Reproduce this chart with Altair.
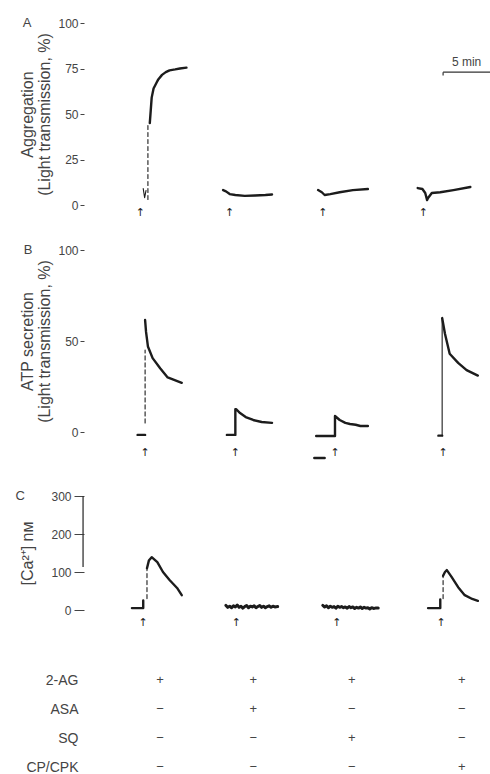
import altair as alt
import pandas as pd

# ---------------- data (time in min, values in panel units) ----------------
# Panel A: aggregation (% light transmission)
A1_base_t = [6.3, 6.45, 6.6];  A1_base_v = [9, 4, 8]
A1_rise_t = [6.8, 6.8];        A1_rise_v = [3, 45]
A1_t = [7.0, 7.1, 7.2, 7.4, 7.7, 7.9, 8.3, 8.7, 9.1, 9.7, 10.2, 10.9]
A1_v = [45, 52, 59, 64, 67, 69, 71.5, 73, 74, 74.5, 75, 75.5]
A2_t = [14.8, 15.1, 15.5, 16.1, 17.1, 18.2, 19.3, 20.0]
A2_v = [8.2, 7.5, 6, 5.5, 5, 5.2, 5.5, 5.8]
A3_t = [24.9, 25.3, 25.6, 26.2, 27.2, 28.6, 30.2]
A3_v = [8.2, 7, 5.5, 6, 7, 8.2, 8.8]
A4_t = [35.5, 36.0, 36.3, 36.5, 36.6, 37.0, 37.9, 39.3, 41.1]
A4_v = [9.3, 8.8, 6.6, 2.7, 3.8, 6.6, 7, 8.2, 9.9]
A_arrow_t = [6.0, 15.5, 25.4, 36.1]
A_arrow_v = [-4.4, -4.4, -4.4, -4.4]

# Panel B: ATP secretion
B1_base_t = [5.7, 6.5];        B1_base_v = [-1.6, -1.6]
B1_rise_t = [6.5, 6.5];        B1_rise_v = [5, 45]
B1_t = [6.5, 6.6, 6.8, 7.3, 8.1, 8.9, 10.4]
B1_v = [61.5, 55, 47, 40.6, 35, 30, 27]
B2_t = [15.2, 16.1, 16.1, 16.2, 16.6, 17.2, 18.0, 18.9, 20.0]
B2_v = [-1.6, -1.6, 12.5, 12.5, 10.4, 8.2, 6.6, 5.5, 5]
B3_t = [24.7, 26.7, 26.7, 27.2, 27.8, 28.3, 28.9, 29.4, 30.2]
B3_v = [-2.2, -2.2, 8.8, 6.6, 5.0, 4.4, 4.0, 3.3, 3.3]
B3_mark_t = [24.5, 25.6];      B3_mark_v = [-14.3, -14.3]
B4_base_t = [37.7, 38.1];      B4_base_v = [-2, -2]
B4_rise_t = [38.1, 38.1];      B4_rise_v = [-2, 62.6]
B4_t = [38.1, 38.4, 38.9, 39.8, 40.7, 41.9]
B4_v = [62.6, 54, 43, 38, 34, 31]
B_arrow_t = [6.5, 16.1, 26.7, 38.2]
B_arrow_v = [-11.5, -11.5, -11.5, -11.5]

# Panel C: [Ca2+] nM
C1_base_t = [5.1, 6.3, 6.3];   C1_base_v = [5, 5, 25]
C1_rise_t = [6.7, 6.7];        C1_rise_v = [30, 110]
C1_t = [6.7, 6.9, 7.2, 7.8, 8.4, 9.1, 9.9, 10.4]
C1_v = [110, 130, 139, 126, 100, 79, 58, 39]
C2_t = [15.1, 15.3, 15.5, 15.7, 15.9, 16.1, 16.3, 16.5, 16.7, 16.9, 17.1, 17.3, 17.5, 17.7,
        17.9, 18.1, 18.3, 18.5, 18.7, 18.9, 19.1, 19.3, 19.5, 19.7, 19.9, 20.1, 20.3, 20.6]
C2_v = [12, 7, 10, 6, 11, 8, 13, 7, 10, 5, 9, 12, 6, 10, 8, 11, 6, 9, 12, 7, 10, 6, 9, 11, 7, 10, 8, 9]
C3_t = [25.4, 25.6, 25.8, 26.0, 26.2, 26.4, 26.6, 26.8, 27.0, 27.2, 27.4, 27.6, 27.8, 28.0, 28.2,
        28.4, 28.6, 28.8, 29.0, 29.2, 29.4, 29.6, 29.8, 30.0, 30.2, 30.4, 30.6, 30.8, 31.0, 31.3]
C3_v = [12, 8, 11, 6, 10, 7, 9, 5, 10, 7, 9, 6, 8, 5, 9, 6, 8, 4, 7, 5, 8, 4, 7, 5, 6, 3, 6, 4, 5, 5]
C4_base_t = [36.6, 37.9, 37.9]; C4_base_v = [5, 5, 28]
C4_rise_t = [38.2, 38.2];       C4_rise_v = [30, 90]
C4_t = [38.2, 38.4, 38.6, 39.1, 39.8, 40.5, 41.3, 41.9]
C4_v = [90, 100, 105, 87, 60, 39, 29, 24]
C_arrow_t = [6.3, 16.2, 26.9, 38.0]
C_arrow_v = [-34, -34, -34, -34]
C_bar_t = [-0.1]; C_bar_v = [113]; C_bar_v2 = [300]

# scale bar (5 min) in panel A units
bar_t = [38.2]; bar_t2 = [43.2]; bar_v = [73]
bar_label = ["5 min"]

# treatment table
rows = ["2-AG", "ASA", "SQ", "CP/CPK"]
col_t = [8.1, 18.0, 28.5, 40.2]
signs = [["+", "+", "+", "+"],
         ["\u2212", "+", "\u2212", "\u2212"],
         ["\u2212", "\u2212", "+", "\u2212"],
         ["\u2212", "\u2212", "\u2212", "+"]]

panel_letters = {"A": (-6.06, 100), "B": (-5.96, 100), "C": (-6.8, 300)}

# ---------------- helpers ----------------
FONT = "Liberation Sans"
TXT = "#444444"
INK = "#1c1c1c"
xs = alt.Scale(domain=[0, 43.19], nice=False, zero=False)
X = alt.X("t:Q", scale=xs, axis=None)


def seg_df(segments):
    recs = []
    for name, tt, vv in segments:
        for i, (t, v) in enumerate(zip(tt, vv)):
            recs.append({"seg": name, "t": t, "v": v, "i": i})
    return pd.DataFrame(recs)


STYLES = {
    "solid": dict(strokeWidth=2.4),
    "dash": dict(strokeWidth=1.1, strokeDash=[4, 3]),
    "thin": dict(strokeWidth=1.1),
    "noisy": dict(strokeWidth=3.0),
}


def lines(segments, style, ys, axis=None):
    return alt.Chart(seg_df(segments)).mark_line(
        color=INK, strokeCap="round", strokeJoin="round", **STYLES[style]
    ).encode(x=X, y=alt.Y("v:Q", scale=ys, axis=axis), detail="seg:N", order="i:Q")


def arrows(tt, vv, ys):
    df = pd.DataFrame({"t": tt, "v": vv, "s": ["\u2191"] * len(tt)})
    return alt.Chart(df).mark_text(font="DejaVu Sans", fontSize=11, color="#222222",
                                   baseline="middle").encode(
        x=X, y=alt.Y("v:Q", scale=ys, axis=None), text="s:N")


def letter(key, ys):
    t, v = panel_letters[key]
    df = pd.DataFrame({"t": [t], "v": [v], "s": [key]})
    return alt.Chart(df).mark_text(font=FONT, fontSize=13, color=TXT, baseline="middle").encode(
        x=X, y=alt.Y("v:Q", scale=ys, axis=None), text="s:N")


def axis(values, title, tick=4, lpad=2, tpad=6):
    return alt.Axis(orient="left", values=values, title=title, domain=False, grid=False,
                    ticks=True, tickSize=tick, tickColor="#444444", tickWidth=1,
                    labelPadding=lpad, labelFont=FONT, labelFontSize=12, labelColor=TXT,
                    labelFlush=False, labelOverlap=False,
                    titleFont=FONT, titleFontSize=16, titleFontWeight="normal",
                    titleColor=TXT, titlePadding=tpad, titleLineHeight=17)


def yscale(domain, rng):
    return alt.Scale(domain=domain, range=rng, nice=False, zero=False)


# ---------------- panel A ----------------
A_dom, A_rng = [0, 100], [205, 23]
axA = axis([0, 25, 50, 75, 100], ["Aggregation", "(Light transmission, %)"], tpad=5)
bar = alt.Chart(pd.DataFrame({"t": bar_t, "t2": bar_t2, "v": bar_v})).mark_rule(
    color="#333333", strokeWidth=1.2).encode(
    x=X, x2="t2:Q", y=alt.Y("v:Q", scale=yscale(A_dom, A_rng), axis=None))
bar_tick = alt.Chart(pd.DataFrame({"t": bar_t, "v": bar_v, "v2": [bar_v[0] - 1.8]})).mark_rule(
    color="#333333", strokeWidth=1.2).encode(
    x=X, y=alt.Y("v:Q", scale=yscale(A_dom, A_rng), axis=None), y2="v2:Q")
bar_txt = alt.Chart(pd.DataFrame({"t": [(bar_t[0] + bar_t2[0]) / 2], "v": [bar_v[0] + 1.5],
                                  "s": bar_label})).mark_text(
    font=FONT, fontSize=12, color=TXT, baseline="bottom").encode(
    x=X, y=alt.Y("v:Q", scale=yscale(A_dom, A_rng), axis=None), text="s:N")

layersA = [
    lines([("A1", A1_t, A1_v), ("A2", A2_t, A2_v), ("A3", A3_t, A3_v), ("A4", A4_t, A4_v)],
          "solid", yscale(A_dom, A_rng), axA),
    lines([("A1r", A1_rise_t, A1_rise_v)], "dash", yscale(A_dom, A_rng)),
    lines([("A1b", A1_base_t, A1_base_v)], "thin", yscale(A_dom, A_rng)),
    arrows(A_arrow_t, A_arrow_v, yscale(A_dom, A_rng)),
    letter("A", yscale(A_dom, A_rng)),
    bar, bar_tick, bar_txt,
]

# ---------------- panel B ----------------
B_dom, B_rng = [0, 100], [432, 250]
axB = axis([0, 50, 100], ["ATP secretion", "(Light transmission, %)"], tpad=5)
layersB = [
    lines([("B1", B1_t, B1_v), ("B1b", B1_base_t, B1_base_v), ("B2", B2_t, B2_v),
           ("B3", B3_t, B3_v), ("B3m", B3_mark_t, B3_mark_v), ("B4b", B4_base_t, B4_base_v),
           ("B4", B4_t, B4_v)], "solid", yscale(B_dom, B_rng), axB),
    lines([("B1r", B1_rise_t, B1_rise_v)], "dash", yscale(B_dom, B_rng)),
    lines([("B4r", B4_rise_t, B4_rise_v)], "thin", yscale(B_dom, B_rng)),
    arrows(B_arrow_t, B_arrow_v, yscale(B_dom, B_rng)),
    letter("B", yscale(B_dom, B_rng)),
]

# ---------------- panel C ----------------
C_dom, C_rng = [0, 300], [610, 496]
axC = axis([0, 100, 200, 300], "[Ca\u00b2\u207a] n\u043c", tick=10, lpad=3, tpad=15)
c_rule = alt.Chart(pd.DataFrame({"t": C_bar_t, "v": C_bar_v, "v2": C_bar_v2})).mark_rule(
    color="#333333", strokeWidth=1.3).encode(
    x=X, y=alt.Y("v:Q", scale=yscale(C_dom, C_rng), axis=None), y2="v2:Q")
layersC = [
    lines([("C1", C1_t, C1_v), ("C1b", C1_base_t, C1_base_v), ("C4", C4_t, C4_v),
           ("C4b", C4_base_t, C4_base_v)], "solid", yscale(C_dom, C_rng), axC),
    lines([("C1r", C1_rise_t, C1_rise_v), ("C4r", C4_rise_t, C4_rise_v)], "dash",
          yscale(C_dom, C_rng)),
    lines([("C2", C2_t, C2_v), ("C3", C3_t, C3_v)], "noisy", yscale(C_dom, C_rng)),
    arrows(C_arrow_t, C_arrow_v, yscale(C_dom, C_rng)),
    letter("C", yscale(C_dom, C_rng)),
    c_rule,
]

# ---------------- table ----------------
tab = pd.DataFrame([{"row": r, "t": col_t[j], "sign": signs[i][j]}
                    for i, r in enumerate(rows) for j in range(len(col_t))])
table = alt.Chart(tab).mark_text(font=FONT, fontSize=13, color=TXT, baseline="middle").encode(
    x=X,
    y=alt.Y("row:N", scale=alt.Scale(type="point", domain=rows, range=[680, 767], padding=0),
            axis=alt.Axis(orient="left", domain=False, ticks=False, grid=False, title=None,
                          labelPadding=6, labelFont=FONT, labelFontSize=14, labelColor=TXT)),
    text="sign:N",
)

chart = alt.layer(*layersA, *layersB, *layersC, table).resolve_scale(
    y="independent").properties(
    width=406, height=774,
    autosize=alt.AutoSizeParams(type="none"),
    padding={"left": 84, "top": 0, "right": 0, "bottom": 0},
    background="white",
).configure_view(stroke=None)

chart.save("out.html", embed_options={"renderer": "svg", "actions": False})
